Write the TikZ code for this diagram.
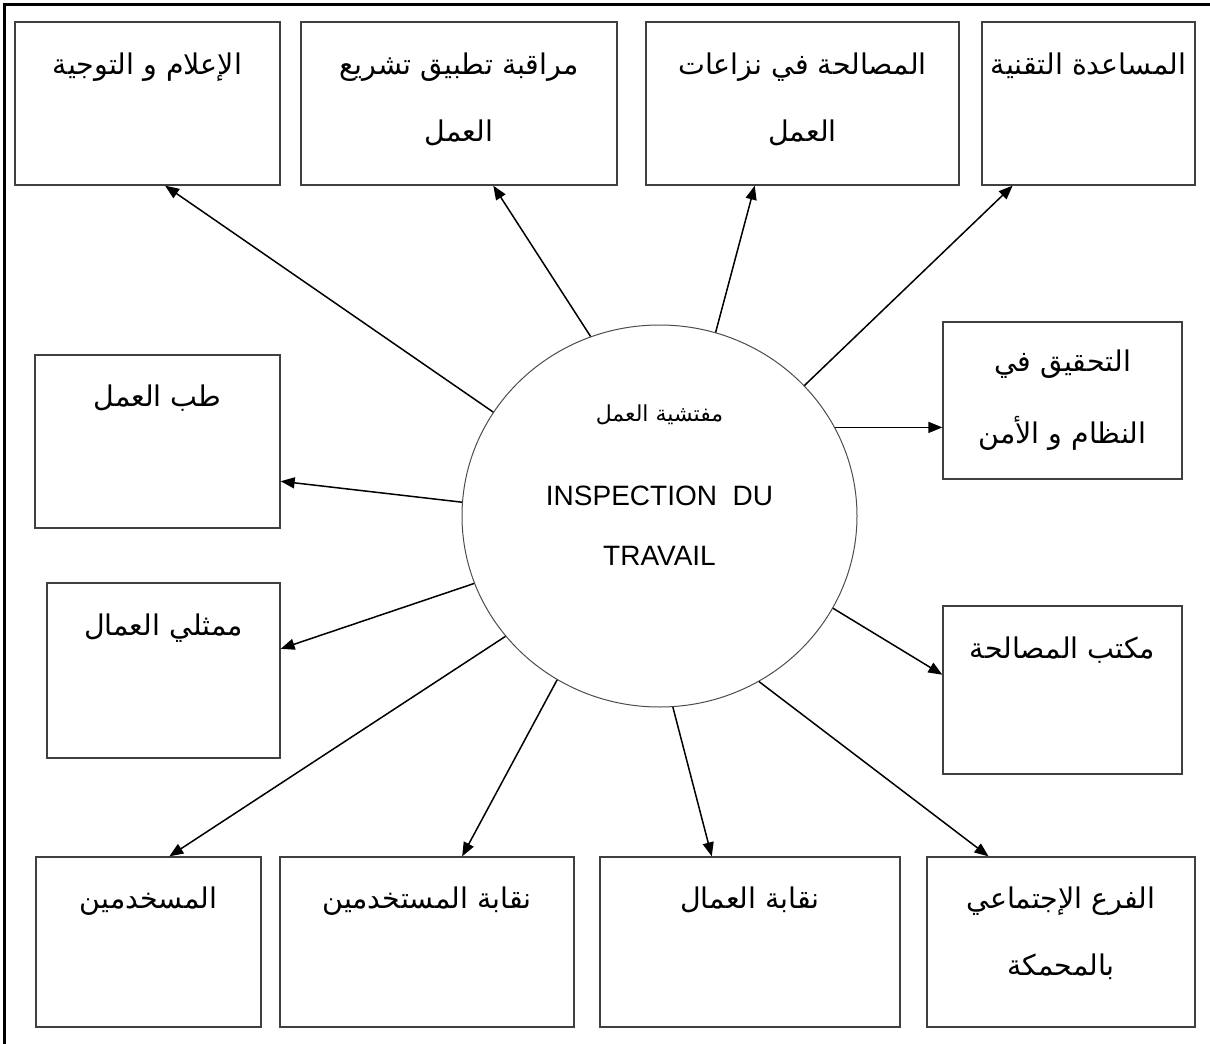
\documentclass[tikz,border=0pt]{standalone}
\usepackage{fontspec}
\setmainfont{Liberation Sans}
\newfontfamily\arabicfont[Script=Arabic]{DejaVu Sans}
\TeXXeTstate=1
\usetikzlibrary{arrows.meta,shapes.geometric,calc}
\begin{document}
\begin{tikzpicture}[x=1pt,y=-1pt,
  box/.style={draw=black!75, line width=1.3pt, inner sep=0pt},
  ar/.style={font=\arabicfont\fontsize{28.5}{32}\selectfont, anchor=base, inner sep=0pt},
  arc/.style={font=\arabicfont\fontsize{22}{26}\selectfont, anchor=base, inner sep=0pt},
  lat/.style={font=\fontsize{28}{32}\selectfont, anchor=base, inner sep=0pt},
  arr/.style={line width=1.5pt, -{Triangle[length=14pt,width=11pt]}},
  hub/.style={draw=black!70, line width=1pt, ellipse, inner sep=0pt}]
\useasboundingbox (0,0) rectangle (1210,1044);
% frame
\draw[line width=3pt] (4,1044) -- (4,4) -- (1210,4);
% hub
\node[hub, minimum width=395pt, minimum height=382pt] (c) at (659.5,516) {};
\node[arc] (c1) at (659.5,421) {\beginR مفتشية العمل\endR};
\node[lat] (c2) at (659.5,505) {INSPECTION\ \ DU};
\node[lat] (c3) at (659.5,565) {TRAVAIL};
% top row
\node[box, minimum width=265pt, minimum height=163pt] (b1) at (147.5,103.5) {};
\node[box, minimum width=316pt, minimum height=163pt] (b2) at (459,103.5) {};
\node[box, minimum width=313pt, minimum height=163pt] (b3) at (802.5,103.5) {};
\node[box, minimum width=213pt, minimum height=163pt] (b4) at (1088.5,103.5) {};
% right
\node[box, minimum width=239pt, minimum height=157pt] (b5) at (1062.5,400.5) {};
\node[box, minimum width=239pt, minimum height=168pt] (b6) at (1062.5,690) {};
% left
\node[box, minimum width=245pt, minimum height=173pt] (b7) at (157.5,441.5) {};
\node[box, minimum width=233pt, minimum height=175pt] (b8) at (163.5,670.5) {};
% bottom row
\node[box, minimum width=225pt, minimum height=170pt] (b9) at (148.5,942) {};
\node[box, minimum width=294pt, minimum height=170pt] (b10) at (427,942) {};
\node[box, minimum width=300pt, minimum height=170pt] (b11) at (750,942) {};
\node[box, minimum width=268pt, minimum height=170pt] (b12) at (1061,942) {};
% texts
\node[ar] (t1) at (147.5,74) {\beginR الإعلام و التوجية\endR};
\node[ar] (t2a) at (459,74) {\beginR مراقبة تطبيق تشريع\endR};
\node[ar] (t2b) at (459,141) {\beginR العمل\endR};
\node[ar] (t3a) at (802.5,74) {\beginR المصالحة في نزاعات\endR};
\node[ar] (t3b) at (802.5,141) {\beginR العمل\endR};
\node[ar] (t4) at (1088.5,74) {\beginR المساعدة التقنية\endR};
\node[ar] (t5a) at (1062.5,371) {\beginR التحقيق في\endR};
\node[ar] (t5b) at (1062.5,443) {\beginR النظام و الأمن\endR};
\node[ar] (t6) at (1062.5,658) {\beginR مكتب المصالحة\endR};
\node[ar] (t7) at (157.5,406) {\beginR طب العمل\endR};
\node[ar] (t8) at (163.5,635) {\beginR ممثلي العمال\endR};
\node[ar] (t9) at (148.5,908) {\beginR المسخدمين\endR};
\node[ar] (t10) at (427,908) {\beginR نقابة المستخدمين\endR};
\node[ar] (t11) at (750,908) {\beginR نقابة العمال\endR};
\node[ar] (t12a) at (1061,908) {\beginR الفرع الإجتماعي\endR};
\node[ar] (t12b) at (1061,975) {\beginR بالمحمكة\endR};
% connectors
\coordinate (p5) at ($(b5.north west)!0.67!(b5.south west)$);
\draw[arr] (c.148.6) -- ($(b1.south west)!0.566!(b1.south east)$);
\draw[arr] (c.111) -- ($(b2.south west)!0.608!(b2.south east)$);
\draw[arr] (c.73.8) -- ($(b3.south west)!0.348!(b3.south east)$);
\draw[arr] (c.42.8) -- ($(b4.south west)!0.146!(b4.south east)$);
\draw[arr] (c.27 |- p5) -- (p5);
\draw[arr] (c.-28.2) -- ($(b6.north west)!0.41!(b6.south west)$);
\draw[arr] (c.-59) -- ($(b12.north west)!0.231!(b12.north east)$);
\draw[arr] (c.-86.3) -- ($(b11.north west)!0.373!(b11.north east)$);
\draw[arr] (c.-122.6) -- ($(b10.north west)!0.619!(b10.north east)$);
\draw[arr] (c.-142.6) -- ($(b9.north west)!0.592!(b9.north east)$);
\draw[arr] (c.-160) -- ($(b8.north east)!0.377!(b8.south east)$);
\draw[arr] (c.176.5) -- ($(b7.north east)!0.728!(b7.south east)$);
\end{tikzpicture}
\end{document}
